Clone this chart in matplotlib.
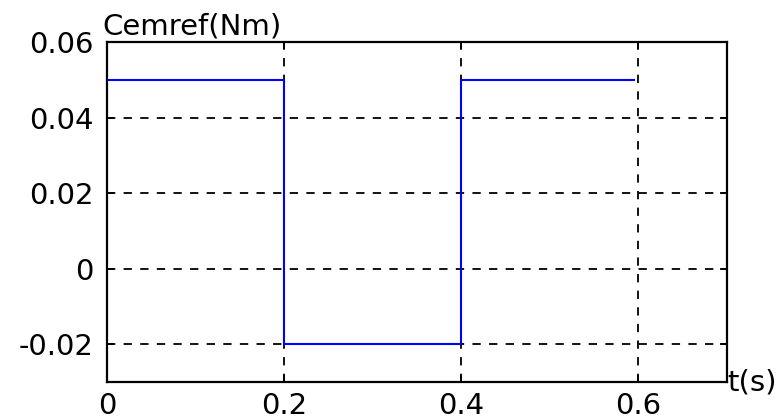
import matplotlib
matplotlib.use("Agg")
import matplotlib.pyplot as plt
from matplotlib.transforms import offset_copy

# Torque reference step profile
t = [0.0, 0.2, 0.2, 0.4, 0.4, 0.595]
cem = [0.05, 0.05, -0.02, -0.02, 0.05, 0.05]

xticks = [0, 0.2, 0.4, 0.6]
xlabels = ["0", "0.2", "0.4", "0.6"]
yticks = [-0.02, 0, 0.02, 0.04, 0.06]
ylabels = ["-0.02", "0", "0.02", "0.04", "0.06"]

plt.rcParams['font.family'] = ['DejaVu Sans']

fig = plt.figure(figsize=(7.81, 4.18), dpi=100)
ax = fig.add_axes([107/781, 1 - 382/418, 620/781, 340/418])

ax.plot(t, cem, color="#0000ff", lw=1.5, zorder=3)
ax.set_xlim(0, 0.7)
ax.set_ylim(-0.03, 0.06)
ax.set_xticks(xticks)
ax.set_xticklabels(xlabels)
ax.set_yticks(yticks)
ax.set_yticklabels(ylabels)
ax.tick_params(direction="in", length=5, width=1.3, top=True, right=True,
               labelsize=21, colors="black", pad=9.5)
ax.tick_params(axis="x", pad=7)
ax.grid(True, color="black", linestyle=(0, (4.6, 4.6)), lw=1.3)
for s in ax.spines.values():
    s.set_linewidth(1.6)

title_tr = offset_copy(ax.transAxes, fig=fig, x=-5, y=7, units="dots")
ax.text(0.0, 1.0, "Cemref(Nm)", transform=title_tr, ha="left", va="baseline",
        fontsize=21)
ax.text(1.0, 0.0, "t(s)", transform=ax.transAxes, ha="left", va="center",
        fontsize=21)

fig.savefig("out.png", dpi=100)
